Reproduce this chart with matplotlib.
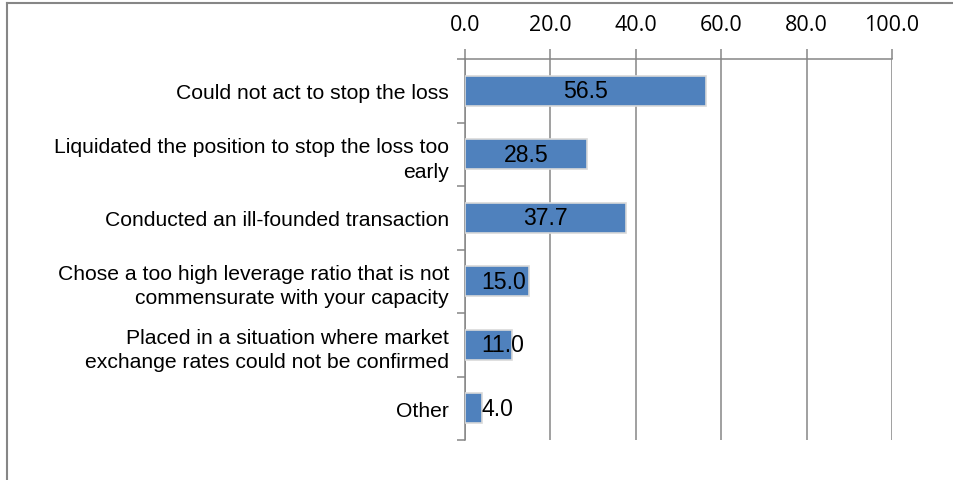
import matplotlib
matplotlib.use("Agg")
import matplotlib.pyplot as plt
from matplotlib.lines import Line2D

# data (top to bottom)
categories = [
    "Could not act to stop the loss",
    "Liquidated the position to stop the loss too\nearly",
    "Conducted an ill-founded transaction",
    "Chose a too high leverage ratio that is not\ncommensurate with your capacity",
    "Placed in a situation where market\nexchange rates could not be confirmed",
    "Other",
]
values = [56.5, 28.5, 37.7, 15.0, 11.0, 4.0]
xticks = [0, 20, 40, 60, 80, 100]

bar_color = "#4F81BD"
grid_color = "#868686"

fig = plt.figure(figsize=(9.54, 4.81), dpi=100)
ax = fig.add_axes([465 / 954, 1 - 441 / 481, (892 - 465) / 954, (441 - 60) / 481])

ypos = list(range(len(categories)))
ax.barh(ypos, values, height=0.47, color=bar_color, edgecolor="#D9D9D9",
        linewidth=1.2, zorder=3)

ax.set_xlim(0, 100)
ax.set_ylim(len(categories) - 0.5, -0.5)

# x axis on top
ax.xaxis.tick_top()
ax.set_xticks(xticks)
ax.set_xticklabels([f"{t:.1f}" for t in xticks], family=["Open Sans", "DejaVu Sans"],
                   fontsize=15.5)
ax.tick_params(axis="x", which="major", direction="out", length=7, width=1.1,
               color=grid_color, pad=10)
ax.grid(axis="x", color=grid_color, linewidth=1.1, zorder=0)

# y axis: labels at centres, tick marks at boundaries
ax.set_yticks(ypos)
ax.set_yticklabels(categories, family=["Liberation Sans", "DejaVu Sans"],
                   fontsize=15.2, linespacing=1.35)
ax.set_yticks([i - 0.5 for i in range(len(categories) + 1)], minor=True)
ax.tick_params(axis="y", which="major", length=0, pad=11.5)
ax.tick_params(axis="y", which="minor", direction="out", length=6, width=1.1,
               color=grid_color)

for side in ["right", "bottom"]:
    ax.spines[side].set_visible(False)
for side in ["left", "top"]:
    ax.spines[side].set_color(grid_color)
    ax.spines[side].set_linewidth(1.1)

# data labels
for y, v in zip(ypos, values):
    if v < 20:
        ax.text(3.8, y, f"{v:.1f}", ha="left", va="center", fontsize=16.6,
                family=["Liberation Sans", "DejaVu Sans"], zorder=4)
    else:
        ax.text(v / 2, y, f"{v:.1f}", ha="center", va="center", fontsize=16.6,
                family=["Liberation Sans", "DejaVu Sans"], zorder=4)

# outer chart frame
fig.add_artist(Line2D([7.5 / 954, 7.5 / 954], [0, 1 - 4 / 481],
                      transform=fig.transFigure, color=grid_color, linewidth=1.5))
fig.add_artist(Line2D([7.5 / 954, 1], [1 - 4 / 481, 1 - 4 / 481],
                      transform=fig.transFigure, color=grid_color, linewidth=1.5))

fig.savefig("out.png", dpi=100)
